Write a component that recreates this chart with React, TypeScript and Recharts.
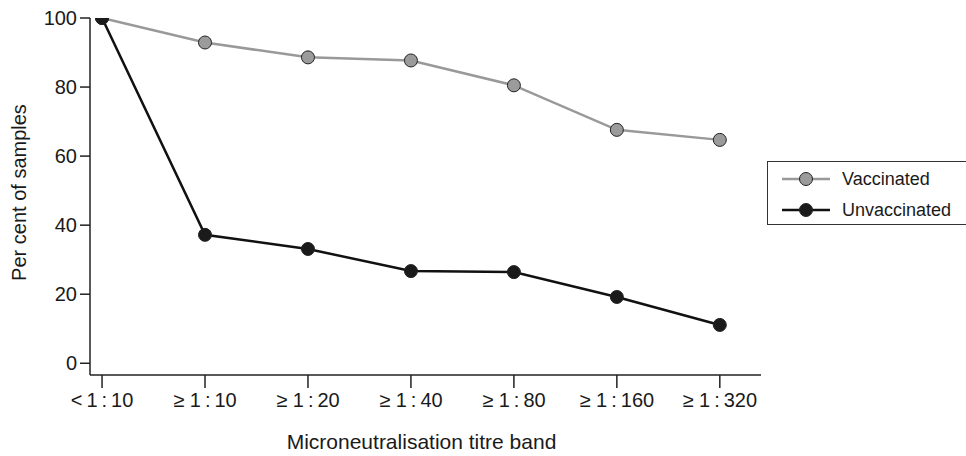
import React from 'react';
import { LineChart, Line, XAxis, YAxis } from 'recharts';

const categories = ['<\u20091\u2009:\u200910', '\u2265 1\u2009:\u200910', '\u2265 1\u2009:\u200920', '\u2265 1\u2009:\u200940', '\u2265 1\u2009:\u200980', '\u2265 1\u2009:\u2009160', '\u2265 1\u2009:\u2009320'];
const vaccinated = [100, 92.9, 88.6, 87.7, 80.5, 67.6, 64.7];
const unvaccinated = [100, 37.2, 33.1, 26.7, 26.4, 19.2, 11.1];
const yTicks = [0, 20, 40, 60, 80, 100];
const xTicks = [0, 1, 2, 3, 4, 5, 6];

const series = [
  { key: 'vaccinated', name: 'Vaccinated', stroke: '#999999', fill: '#9b9b9b' },
  { key: 'unvaccinated', name: 'Unvaccinated', stroke: '#111111', fill: '#1a1a1a' },
];

const data = categories.map((c, i) => ({
  idx: i,
  label: c,
  vaccinated: vaccinated[i],
  unvaccinated: unvaccinated[i],
}));

const FONT = '"Liberation Sans", Arial, Helvetica, sans-serif';
const TEXT = '#1a1a1a';

const YLabel = (props: any) => {
  const vb = props.viewBox || {};
  const cy = vb.y + vb.height / 2 - 4;
  const x = 26;
  return (
    <text x={x} y={cy} transform={`rotate(-90 ${x} ${cy})`} textAnchor="middle" fill={TEXT} fontSize={20} fontFamily={FONT}>
      Per cent of samples
    </text>
  );
};

const XLabel = (props: any) => {
  const vb = props.viewBox || {};
  const cx = vb.x + vb.width / 2 - 4;
  return (
    <text x={cx} y={449} textAnchor="middle" fill={TEXT} fontSize={21} fontFamily={FONT}>
      Microneutralisation titre band
    </text>
  );
};

const LegendBox = () => (
  <div
    style={{
      position: 'absolute',
      left: 767,
      top: 161,
      width: 200,
      height: 64,
      border: '1px solid #333',
      boxSizing: 'border-box',
      fontFamily: FONT,
      fontSize: 18,
      color: TEXT,
    }}
  >
    {series.map((s, i) => (
      <div key={s.key} style={{ position: 'absolute', left: 13, top: 4 + i * 31, height: 26, display: 'flex', alignItems: 'center' }}>
        <svg width={50} height={20} style={{ display: 'block' }}>
          <line x1={1} y1={10} x2={49} y2={10} stroke={s.stroke} strokeWidth={2.5} />
          <circle cx={25} cy={10} r={6.5} fill={s.fill} stroke="#222" strokeWidth={1} />
        </svg>
        <span style={{ marginLeft: 11, lineHeight: '26px' }}>{s.name}</span>
      </div>
    ))}
  </div>
);

export default function App() {
  return (
    <div style={{ position: 'absolute', left: 0, top: 0, width: 966, height: 456, background: '#fff' }}>
      <LineChart width={966} height={456} data={data} margin={{ top: 18, right: 205, bottom: 0, left: 0 }}>
        <XAxis
          dataKey="idx"
          type="number"
          domain={[-0.117, 6.4]}
          allowDataOverflow
          ticks={xTicks}
          interval={0}
          tickFormatter={(v: number) => categories[v]}
          height={81}
          tickSize={13}
          tickMargin={5}
          axisLine={{ stroke: '#222', strokeWidth: 1.5 }}
          tickLine={{ stroke: '#222', strokeWidth: 1.5 }}
          tick={{ fill: TEXT, fontSize: 20, fontFamily: FONT }}
          label={<XLabel />}
        />
        <YAxis
          type="number"
          domain={[-3.4, 100]}
          allowDataOverflow
          ticks={yTicks}
          interval={0}
          width={90}
          tickSize={10}
          tickMargin={3}
          axisLine={{ stroke: '#222', strokeWidth: 1.5 }}
          tickLine={{ stroke: '#222', strokeWidth: 1.5 }}
          tick={{ fill: TEXT, fontSize: 20, fontFamily: FONT }}
          label={<YLabel />}
        />
        {series.map((s) => (
          <Line
            key={s.key}
            dataKey={s.key}
            name={s.name}
            type="linear"
            stroke={s.stroke}
            strokeWidth={2.5}
            dot={{ r: 6.5, fill: s.fill, stroke: '#222', strokeWidth: 1 }}
            activeDot={false}
            isAnimationActive={false}
          />
        ))}
      </LineChart>
      <LegendBox />
    </div>
  );
}
